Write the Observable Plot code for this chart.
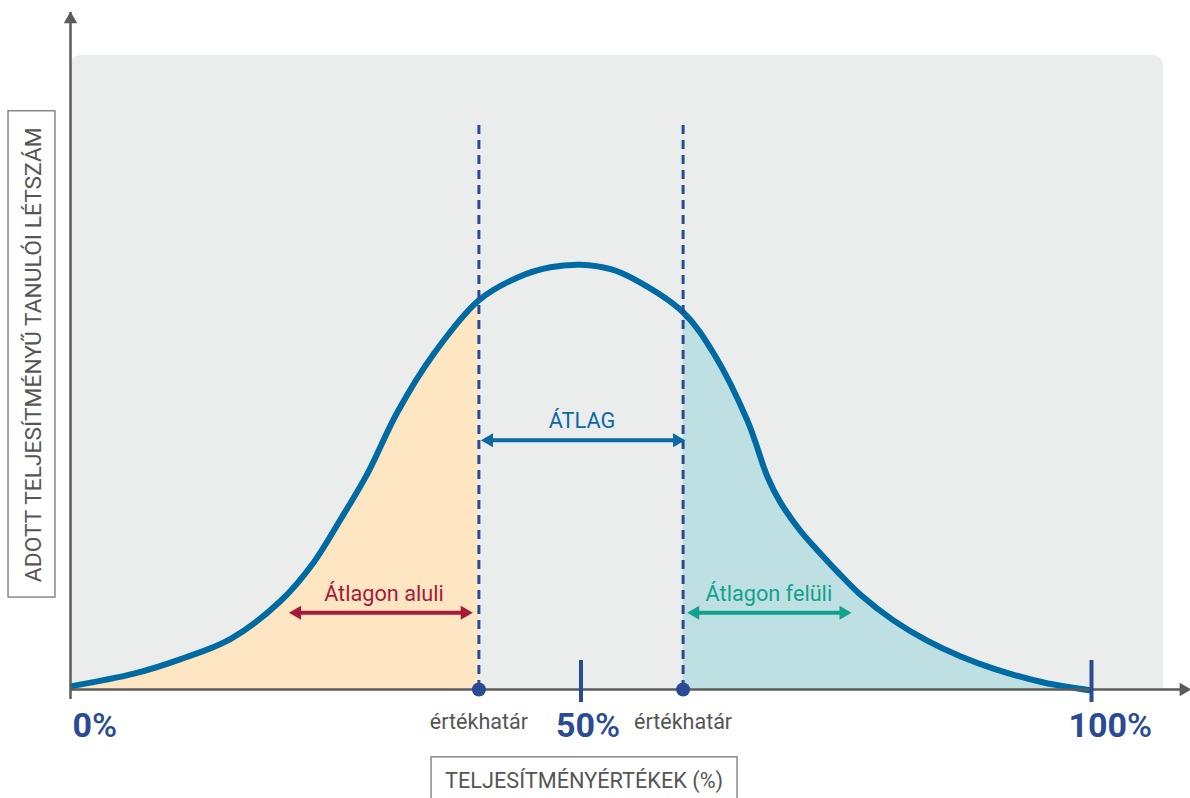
<!DOCTYPE html>
<html><head><meta charset="utf-8">
<script src="https://cdn.jsdelivr.net/npm/d3@7"></script>
<script src="https://cdn.jsdelivr.net/npm/@observablehq/plot@0.6"></script>
<style>html,body{margin:0;padding:0;background:#fff;overflow:hidden}</style>
</head><body><div id="chart"></div>
<script>
// ---- data ----
const curveX = [0, 6.2, 10.8, 15.7, 20.6, 23.8, 26.4, 29.1, 32.0, 35.6, 40, 43.8, 47, 50, 52.9, 55.1, 60, 63.0, 66.3, 68.3, 69.5, 71.5, 72.8, 75.1, 77.4, 80.6, 83.9, 87.2, 90.4, 95.3, 100];
const curveY = [0.5, 2.5, 4.8, 8.0, 14.0, 20.0, 26.7, 34.1, 43.7, 53.0, 61.4, 65.0, 66.6, 67.0, 66.3, 64.8, 59.5, 53.0, 42.4, 33.4, 29.6, 25.0, 22.6, 18.6, 14.9, 10.9, 7.7, 5.2, 3.3, 1.1, -0.15];
const thresholds = [40, 60];
const thresholdLabel = "értékhatár";
const tickValues = [0, 50, 100];
const tickLabels = ["0%", "50%", "100%"];
const arrowLabels = ["ÁTLAG", "Átlagon aluli", "Átlagon felüli"];
const arrowFrom = [40.3, 21.5, 60.5];
const arrowTo = [60.1, 39.3, 76.4];
const arrowLevel = [39.3, 12.1, 12.1];
const labelX = [50.1, 30.7, 68.4];
const labelLevel = [42.4, 15.1, 15.1];
const yTitle = "ADOTT TELJESÍTMÉNYŰ TANULÓI LÉTSZÁM";
const xTitle = "TELJESÍTMÉNYÉRTÉKEK (%)";

// ---- styles ----
const arrowColors = ["#0a69a5", "#a71a3b", "#12a08f"];
const navy = "#2a4b94";
const axisGray = "#5b5b5b";
const font = "Roboto, 'Open Sans', sans-serif";
const tickDx = [2, -25, -23];

const curve = curveX.map((x, i) => ({x, y: curveY[i]}));
const below = curve.filter(d => d.x <= thresholds[0]);
const above = curve.filter(d => d.x >= thresholds[1]);
const arrows = arrowLabels.map((label, i) => ({label, x1: arrowFrom[i], x2: arrowTo[i], y: arrowLevel[i], lx: labelX[i], ly: labelLevel[i], color: arrowColors[i]}));
const ticks = tickValues.map((v, i) => ({v, label: tickLabels[i], dx: tickDx[i]}));
const interp = "catmull-rom";

const marks = [
  Plot.rect([0], {x1: 0, x2: 107.05, y1: 0, y2: 100, fill: "#ebeded", rx: 10}),
  Plot.rect([0], {x1: 0, x2: 107.05, y1: 0, y2: 50, fill: "#ebeded"}),
  Plot.areaY(below, {x: "x", y: "y", curve: interp, fill: "#fde6c1"}),
  Plot.areaY(above, {x: "x", y: "y", curve: interp, fill: "#bfe0e3"}),
  Plot.line(curve, {x: "x", y: "y", curve: interp, stroke: "#006aa3", strokeWidth: 6, strokeLinecap: "butt"}),
  Plot.ruleX(thresholds, {y1: 0, y2: 89, stroke: navy, strokeWidth: 3, strokeDasharray: "9,6"}),
  // axes
  Plot.ruleY([0], {x1: 0, x2: 109.7, insetRight: 10, stroke: axisGray, strokeWidth: 2.5}),
  Plot.ruleX([0], {y1: 0, y2: 106.8, insetTop: 10, stroke: axisGray, strokeWidth: 2.5}),
  Plot.dot([0], {x: 109.7, y: 0, dx: -7, symbol: "triangle", rotate: 90, r: 5, fill: axisGray}),
  Plot.dot([0], {x: 0, y: 106.8, dy: 7, symbol: "triangle", rotate: 0, r: 5, fill: axisGray}),
  Plot.ruleX(tickValues.slice(1), {y1: -2.05, y2: 4.57, stroke: navy, strokeWidth: 4}),
  Plot.dot(thresholds, {x: d => d, y: 0, r: 7, fill: navy}),
  Plot.text(thresholds, {x: d => d, y: -5.1, text: () => thresholdLabel, fill: "#555", fontSize: 21.5, fontFamily: font}),
  ...ticks.map(t => Plot.text([t], {x: "v", y: -5.7, text: "label", textAnchor: "start", dx: t.dx, fill: navy, fontSize: 34, fontWeight: "bold", fontFamily: font})),
  ...arrows.flatMap(a => [
    Plot.ruleY([a], {y: "y", x1: "x1", x2: "x2", insetLeft: 6, insetRight: 6, stroke: a.color, strokeWidth: 4}),
    Plot.dot([a], {x: "x1", y: "y", dx: 7, symbol: "triangle", rotate: -90, r: 5.2, fill: a.color}),
    Plot.dot([a], {x: "x2", y: "y", dx: -7, symbol: "triangle", rotate: 90, r: 5.2, fill: a.color}),
    Plot.text([a], {x: "lx", y: "ly", text: "label", fill: a.color, fontSize: 21.7, fontFamily: font})
  ]),
  // axis title boxes
  Plot.rect([0], {x1: -6.07, x2: -1.47, y1: 14.5, y2: 91.2, fill: "white", stroke: "#6b6b6b", strokeWidth: 1.2}),
  Plot.text([yTitle], {x: -3.62, y: 52.8, text: d => d, rotate: -90, fill: "#555", fontSize: 22.8, fontFamily: font}),
  Plot.rect([0], {x1: 35.36, x2: 65.33, y1: -18, y2: -10.7, fill: "white", stroke: "#6b6b6b", strokeWidth: 1.2}),
  Plot.text([xTitle], {x: 50.3, y: -14.5, text: d => d, fill: "#555", fontSize: 21.7, fontFamily: font})
];

const chart = Plot.plot({
  width: 1190,
  height: 798,
  x: {domain: [0, 100], range: [70, 1091], axis: null},
  y: {domain: [0, 100], range: [689, 55], axis: null},
  style: {background: "white", fontFamily: font, overflow: "visible"},
  marks
});

// bold digits, lighter percent sign
chart.querySelectorAll("text").forEach(t => {
  const m = t.textContent.match(/^(\d+)(%)$/);
  if (m) {
    t.textContent = "";
    const ns = "http://www.w3.org/2000/svg";
    const a = document.createElementNS(ns, "tspan"); a.textContent = m[1]; a.setAttribute("font-weight", "bold");
    const b = document.createElementNS(ns, "tspan"); b.textContent = m[2]; b.setAttribute("font-weight", "500");
    t.append(a, b);
  }
});
document.getElementById("chart").append(chart);
</script>
</body></html>
